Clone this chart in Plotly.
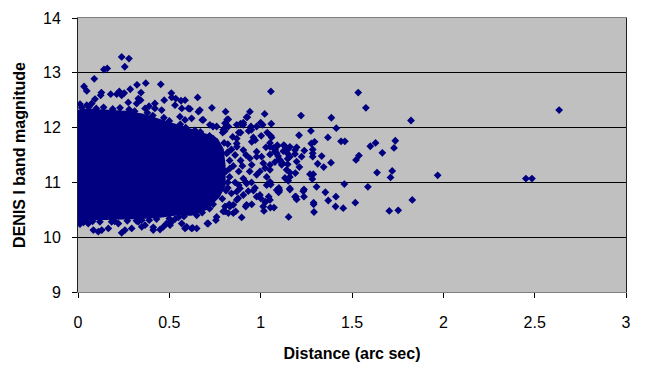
import plotly.graph_objects as go

# Envelope of the saturated core of the point cloud
core_x = [0.0, 0.0, 0.05, 0.16, 0.26, 0.35, 0.44, 0.53, 0.61, 0.70, 0.76, 0.79, 0.80, 0.80,
          0.77, 0.70, 0.62, 0.53, 0.45, 0.35, 0.25, 0.15, 0.05, 0.0]
core_y = [10.3, 12.3, 12.32, 12.3, 12.28, 12.23, 12.14, 12.05, 11.96, 11.86, 11.78, 11.6, 11.3, 10.95,
          10.75, 10.52, 10.42, 10.42, 10.38, 10.36, 10.35, 10.34, 10.33, 10.3]

# Points sitting on the ragged edge of the core
edge_x = [0.02, 0.06, 0.10, 0.14, 0.19, 0.23, 0.28, 0.31, 0.38, 0.41, 0.47, 0.50, 0.56, 0.59,
          0.64, 0.67, 0.72, 0.74, 0.80, 0.82, 0.83, 0.82, 0.81, 0.79, 0.74, 0.72, 0.68, 0.65,
          0.58, 0.55, 0.50, 0.43, 0.39, 0.32, 0.27, 0.20, 0.12, 0.08, 0.03]
edge_y = [12.36, 12.38, 12.35, 12.37, 12.34, 12.36, 12.33, 12.30, 12.27, 12.22, 12.18, 12.12,
          12.06, 12.00, 11.95, 11.92, 11.85, 11.80, 11.72, 11.55, 11.25, 11.00, 10.85, 10.70,
          10.60, 10.52, 10.45, 10.40, 10.38, 10.36, 10.34, 10.33, 10.31, 10.30, 10.30, 10.29,
          10.28, 10.29, 10.27]

# Individual points outside the core
top_x = [0.239, 0.279, 0.256, 0.142, 0.160, 0.089, 0.033, 0.048, 0.323, 0.371, 0.453, 0.286, 0.345,
         0.128, 0.124, 0.179, 0.226, 0.212, 0.093, 0.011, 0.048, 0.075, 0.511, 0.472, 0.513, 0.535,
         0.421, 0.389, 0.275, 0.321, 0.239, 0.253, 0.330, 0.343, 0.564, 0.586, 0.604, 0.568, 0.531,
         0.458, 0.421, 0.367, 0.655, 0.659, 0.733, 0.613, 0.808, 0.680, 0.823, 0.927, 0.739, 0.805,
         0.810, 0.890, 0.905, 0.947, 1.000, 1.011, 0.978, 1.036, 0.880, 0.890, 0.934, 0.949, 0.847,
         0.869, 0.792, 0.803, 0.817, 0.923, 0.905, 0.869, 0.667, 0.558, 0.586, 0.622, 0.686, 0.722,
         0.759, 0.795, 0.823]
top_y = [13.29, 13.26, 13.11, 13.06, 13.08, 12.89, 12.75, 12.67, 12.78, 12.81, 12.79, 12.70, 12.64,
         12.64, 12.59, 12.61, 12.66, 12.61, 12.52, 12.43, 12.41, 12.44, 12.63, 12.50, 12.55, 12.53,
         12.44, 12.39, 12.46, 12.44, 12.59, 12.63, 12.53, 12.50, 12.49, 12.50, 12.35, 12.35, 12.41,
         12.32, 12.35, 12.35, 12.55, 12.29, 12.36, 12.34, 12.29, 12.14, 12.15, 12.19, 12.02, 12.08,
         12.02, 12.07, 12.09, 12.02, 12.09, 12.05, 12.02, 11.91, 11.91, 11.91, 11.94, 11.96, 11.83,
         11.80, 11.91, 11.94, 12.15, 12.19, 12.05, 12.05, 12.32, 12.20, 12.14, 12.17, 12.14, 12.05,
         12.02, 11.96, 12.02]

bottom_x = [0.011, 0.084, 0.111, 0.130, 0.166, 0.239, 0.257, 0.294, 0.349, 0.367, 0.412, 0.449,
            0.467, 0.485, 0.513, 0.531, 0.568, 0.586, 0.622, 0.349, 0.330, 0.221, 0.184, 0.056,
            0.038, 0.628, 0.708, 0.759, 0.755, 0.805, 0.823, 0.896, 0.850, 0.863, 0.650, 0.595,
            0.504, 0.412, 0.713]
bottom_y = [10.24, 10.13, 10.10, 10.13, 10.16, 10.08, 10.13, 10.16, 10.19, 10.22, 10.13, 10.14,
            10.19, 10.25, 10.28, 10.33, 10.25, 10.16, 10.16, 10.31, 10.28, 10.25, 10.28, 10.25,
            10.31, 10.17, 10.25, 10.37, 10.31, 10.47, 10.44, 10.36, 10.44, 10.47, 10.16, 10.19,
            10.22, 10.18, 10.25]

mid_x = [0.951, 0.918, 1.000, 0.996, 1.024, 1.100, 1.100, 1.160, 1.193, 1.033, 1.051, 1.133,
         1.151, 0.969, 0.932, 0.905, 0.877, 0.850, 0.828, 0.805, 0.996, 1.024, 1.051, 1.078,
         1.096, 1.115, 1.142, 1.160, 1.051, 1.078, 1.124, 1.160, 1.197, 0.941, 0.978, 1.005,
         0.951, 0.978, 0.905, 0.923, 0.887, 0.869, 0.759, 0.814, 0.869, 0.905, 0.951, 0.978,
         1.014, 1.051, 1.088, 1.106, 1.051, 1.033, 1.088, 1.051, 1.014, 0.923, 0.978, 0.869,
         0.832, 0.795, 0.960, 0.970, 1.003, 1.060, 1.091, 1.133, 1.160, 1.197, 1.029, 1.051,
         0.82, 0.84, 0.86, 0.83, 0.85, 0.88, 0.83, 0.86, 0.90, 0.92, 0.94, 0.82, 0.88, 0.92,
         0.84, 0.81, 0.87, 0.89, 0.95, 0.96]
mid_y = [10.60, 10.56, 10.71, 10.77, 10.65, 10.83, 10.90, 10.89, 10.74, 10.95, 11.01, 11.08,
         11.03, 10.90, 10.84, 10.77, 10.71, 10.59, 10.60, 10.56, 11.20, 11.26, 11.32, 11.37,
         11.41, 11.32, 11.23, 11.10, 11.51, 11.56, 11.57, 11.47, 11.38, 11.44, 11.56, 11.47,
         11.32, 11.14, 11.07, 10.98, 10.89, 10.83, 11.65, 11.53, 11.71, 11.59, 11.74, 11.47,
         11.35, 11.65, 11.53, 11.41, 11.23, 11.10, 10.86, 10.68, 10.56, 10.59, 10.74, 10.68,
         10.56, 10.47, 11.82, 11.77, 11.85, 11.82, 11.68, 11.66, 11.65, 11.64, 11.64, 11.72,
         11.70, 11.60, 11.50, 11.40, 11.30, 11.20, 11.10, 11.00, 11.30, 11.50, 11.20, 10.90,
         10.95, 11.00, 10.80, 11.20, 11.65, 11.40, 11.00, 10.85]

far_x = [2.634, 2.452, 2.485, 1.056, 1.534, 1.576, 1.823, 1.969, 1.830, 1.704, 1.753, 1.518,
         1.452, 1.410, 1.587, 1.637, 1.711, 1.720, 1.666, 1.600, 1.629, 1.730, 1.737, 1.522,
         1.538, 1.458, 1.440, 1.461, 1.414, 1.387, 1.368, 1.385, 1.345, 1.354, 1.306, 1.370,
         1.412, 1.290, 1.290, 1.292, 1.221, 1.210, 1.275, 1.277, 1.295, 1.285, 1.285, 1.285,
         1.334, 1.312, 1.270, 1.288, 1.283, 1.239, 1.224, 1.212, 1.237, 1.233, 1.237, 1.188,
         1.197, 1.160, 1.153, 1.053, 1.073, 1.018, 1.025, 1.044, 1.055, 1.102, 1.098, 1.160,
         1.190, 1.148, 1.148, 1.157, 1.126, 1.148, 1.146, 1.188, 1.188, 1.095, 1.120, 1.090,
         1.070, 1.080, 1.058, 1.022, 1.055, 0.941]
far_y = [12.32, 11.07, 11.07, 12.66, 12.64, 12.36, 12.13, 11.13, 10.68, 10.48, 10.49, 10.63,
         10.53, 10.56, 10.92, 11.18, 11.09, 11.21, 11.54, 11.66, 11.72, 11.63, 11.76, 11.41,
         11.49, 10.97, 11.75, 11.75, 11.99, 12.18, 11.82, 11.36, 11.28, 10.82, 10.92, 10.67,
         10.74, 10.63, 10.60, 10.46, 12.22, 11.86, 11.94, 11.71, 11.74, 11.60, 11.53, 11.47,
         11.48, 11.34, 11.15, 11.15, 11.06, 11.58, 11.47, 11.28, 10.87, 10.84, 10.74, 10.74,
         10.69, 10.87, 10.37, 10.54, 10.54, 10.48, 10.64, 10.74, 10.96, 10.86, 10.82, 11.18,
         11.17, 11.33, 11.43, 11.47, 11.68, 11.60, 11.53, 11.59, 11.52, 11.48, 11.35, 11.66,
         11.63, 11.59, 12.07, 12.25, 11.85, 12.29]

x_ticks = [0, 0.5, 1, 1.5, 2, 2.5, 3]
x_tick_text = ["0", "0.5", "1", "1.5", "2", "2.5", "3"]
y_ticks = [9, 10, 11, 12, 13, 14]

NAVY = "#000080"

pts_x = edge_x + top_x + bottom_x + mid_x + far_x
pts_y = edge_y + top_y + bottom_y + mid_y + far_y

fig = go.Figure()
fig.add_trace(go.Scatter(x=core_x, y=core_y, mode="lines", fill="toself",
                         fillcolor=NAVY, line=dict(color=NAVY, width=3),
                         hoverinfo="skip", showlegend=False))
fig.add_trace(go.Scatter(x=pts_x, y=pts_y, mode="markers",
                         marker=dict(symbol="diamond", size=6, color=NAVY, line=dict(width=0)),
                         showlegend=False))

font = "Liberation Sans, Arial, sans-serif"
fig.update_layout(
    width=650, height=377,
    margin=dict(l=78, r=24, t=18, b=85),
    paper_bgcolor="white", plot_bgcolor="#C0C0C0",
    font=dict(family=font, size=16, color="black"),
    showlegend=False,
    xaxis=dict(range=[0, 3], tickvals=x_ticks, ticktext=x_tick_text, automargin=False,
               ticks="outside", ticklen=5, tickcolor="black",
               showline=True, linecolor="#808080", linewidth=1, mirror=True,
               showgrid=False, zeroline=False, ticklabelstandoff=11,
               title=dict(text="<b>Distance (arc sec)</b>", font=dict(size=16), standoff=17)),
    yaxis=dict(range=[9, 14], tickvals=y_ticks, automargin=False,
               ticks="outside", ticklen=5, tickcolor="black",
               showline=True, linecolor="#202020", linewidth=1, mirror=True,
               showgrid=True, gridcolor="black", gridwidth=1, zeroline=False,
               ticklabelstandoff=8,
               title=dict(text="<b>DENIS I band magnitude</b>", font=dict(size=16), standoff=13)),
)

fig.write_html("out.html", config={"displayModeBar": False},
               post_script="document.body.style.margin='0';document.body.style.overflow='hidden';")
